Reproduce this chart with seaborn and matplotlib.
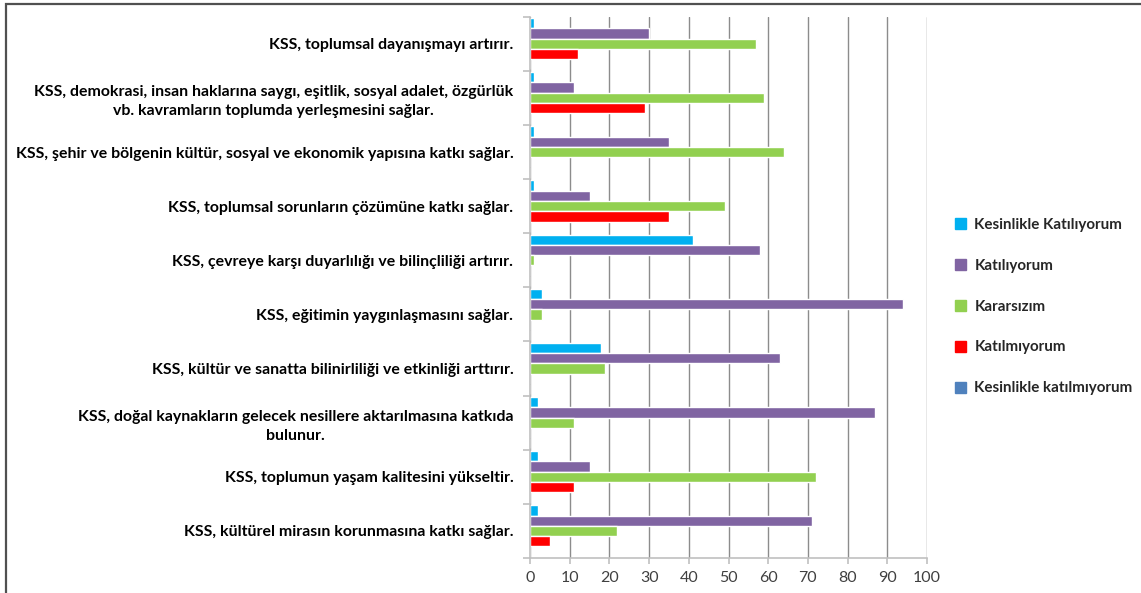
import matplotlib
matplotlib.use("Agg")
import matplotlib.pyplot as plt
import seaborn as sns
import pandas as pd
from matplotlib.patches import Rectangle

categories = [
    "KSS, toplumsal dayanışmayı artırır.",
    "KSS, demokrasi, insan haklarına saygı, eşitlik, sosyal adalet, özgürlük\nvb. kavramların toplumda yerleşmesini sağlar.",
    "KSS, şehir ve bölgenin kültür, sosyal ve ekonomik yapısına katkı sağlar.",
    "KSS, toplumsal sorunların çözümüne katkı sağlar.",
    "KSS, çevreye karşı duyarlılığı ve bilinçliliği artırır.",
    "KSS, eğitimin yaygınlaşmasını sağlar.",
    "KSS, kültür ve sanatta bilinirliliği ve etkinliği arttırır.",
    "KSS, doğal kaynakların gelecek nesillere aktarılmasına katkıda\nbulunur.",
    "KSS, toplumun yaşam kalitesini yükseltir.",
    "KSS, kültürel mirasın korunmasına katkı sağlar.",
]
series_names = ["Kesinlikle Katılıyorum", "Katılıyorum", "Kararsızım",
                "Katılmıyorum", "Kesinlikle katılmıyorum"]
kesinlikle_katiliyorum = [1, 1, 1, 1, 41, 3, 18, 2, 2, 2]
katiliyorum = [30, 11, 35, 15, 58, 94, 63, 87, 15, 71]
kararsizim = [57, 59, 64, 49, 1, 3, 19, 11, 72, 22]
katilmiyorum = [12, 29, 0, 35, 0, 0, 0, 0, 11, 5]
kesinlikle_katilmiyorum = [0, 0, 0, 0, 0, 0, 0, 0, 0, 0]
x_ticks = [0, 10, 20, 30, 40, 50, 60, 70, 80, 90, 100]
colors = ["#00B0F0", "#8064A2", "#92D050", "#FF0000", "#4F81BD"]

all_values = [kesinlikle_katiliyorum, katiliyorum, kararsizim,
              katilmiyorum, kesinlikle_katilmiyorum]
rows = []
for name, vals in zip(series_names, all_values):
    for cat, v in zip(categories, vals):
        rows.append({"cat": cat, "series": name, "value": v})
df = pd.DataFrame(rows)

sns.set_theme(style="white")
plt.rcParams["font.family"] = ["Lato", "DejaVu Sans"]

fig = plt.figure(figsize=(11.41, 5.93), dpi=100)
ax = fig.add_axes([530/1141, 1-558/593, (927-530)/1141, (558-16.7)/593])

sns.barplot(data=df, y="cat", x="value", hue="series", order=categories,
            hue_order=series_names, palette=colors, orient="h",
            width=0.95, gap=0, saturation=1, ax=ax, legend=True, errorbar=None)

ax.set_xlim(0, 100)
ax.set_ylim(len(categories) - 0.5, -0.5)
ax.set_xticks(x_ticks)
ax.set_xticklabels([str(t) for t in x_ticks], fontsize=11.5, color="#404040")
ax.set_xlabel("")
ax.set_ylabel("")
ax.xaxis.grid(True, color="#8C8C8C", linewidth=1)
ax.set_axisbelow(True)
for s in ["top", "right"]:
    ax.spines[s].set_visible(False)
for s in ["left", "bottom"]:
    ax.spines[s].set_color("#C0C0C0")
    ax.spines[s].set_linewidth(1.2)
ax.tick_params(axis="x", length=4, color="#C0C0C0", width=1.2, pad=5, bottom=True)
ax.tick_params(axis="y", which="major", length=0, pad=12)
ax.set_yticks([i - 0.5 for i in range(len(categories) + 1)], minor=True)
ax.tick_params(axis="y", which="minor", length=5, color="#C0C0C0", width=1.2, left=True)
for lbl in ax.get_yticklabels():
    lbl.set_fontweight("bold")
    lbl.set_fontsize(11.4)
    lbl.set_color("black")
    lbl.set_multialignment("center")
    lbl.set_linespacing(1.45)

leg = ax.get_legend()
leg.remove()
handles = [Rectangle((0, 0), 1, 1, color=c) for c in colors]
fig.legend(handles, series_names, loc="upper left",
           bbox_to_anchor=(941/1141, 1-204/593), frameon=False,
           prop={"weight": "bold", "size": 10.9}, labelspacing=1.78,
           handlelength=0.75, handleheight=0.75, handletextpad=0.55)

fig.patches.append(Rectangle((6/1141, -0.1), 1.2, 1-4/593 + 0.1,
                             transform=fig.transFigure, fill=False,
                             edgecolor="#505050", linewidth=1.6))

fig.savefig("out.png", dpi=100)
